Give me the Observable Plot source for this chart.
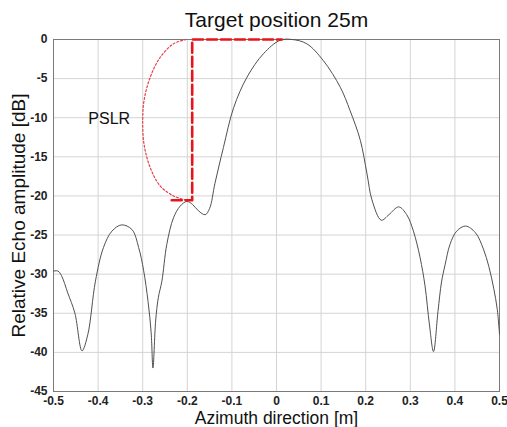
<!DOCTYPE html>
<html>
<head>
<meta charset="utf-8">
<script src="https://cdn.jsdelivr.net/npm/d3@7"></script>
<script src="https://cdn.jsdelivr.net/npm/@observablehq/plot@0.6"></script>
<style>
  html, body { margin: 0; padding: 0; background: #fff; }
  #chart svg { display: block; }
</style>
</head>
<body>
<div id="chart"></div>
<script>
const titleText = "Target position 25m";
const xLabel = "Azimuth direction [m]";
const yLabel = "Relative Echo amplitude [dB]";
const annotationText = "PSLR";

const xTicks = [-0.5, -0.4, -0.3, -0.2, -0.1, 0, 0.1, 0.2, 0.3, 0.4, 0.5];
const yTicks = [0, -5, -10, -15, -20, -25, -30, -35, -40, -45];

const azimuth = [-0.5, -0.49, -0.482, -0.468, -0.452, -0.436, -0.423, -0.406, -0.388, -0.369, -0.347, -0.324, -0.309, -0.298, -0.288, -0.281, -0.277, -0.271, -0.265, -0.257, -0.246, -0.231, -0.216, -0.201, -0.188, -0.175, -0.16, -0.15, -0.138, -0.119, -0.096, -0.066, -0.029, 0.008, 0.035, 0.068, 0.105, 0.143, 0.165, 0.188, 0.203, 0.214, 0.235, 0.252, 0.274, 0.292, 0.307, 0.322, 0.333, 0.343, 0.352, 0.362, 0.37, 0.378, 0.389, 0.404, 0.424, 0.446, 0.464, 0.476, 0.487, 0.495, 0.5];
const echoDb = [-29.6, -29.6, -30.2, -32.4, -35.0, -39.8, -37.7, -30.9, -26.6, -24.5, -23.7, -24.3, -26.6, -29.5, -33.5, -37.5, -42.0, -36.0, -33.0, -30.9, -26.2, -22.8, -21.3, -20.7, -21.1, -21.9, -22.4, -21.6, -18.4, -13.8, -8.7, -4.8, -1.8, -0.1, 0, -0.55, -2.7, -6.1, -9.1, -12.9, -17.2, -20.5, -23.1, -22.4, -21.4, -22.4, -24.5, -27.9, -31.5, -36.5, -39.9, -34.8, -31.0, -28.8, -26.2, -24.5, -23.85, -24.7, -26.8, -29.0, -31.8, -34.5, -37.7];

const pslrArcX = [-0.202, -0.231, -0.261, -0.283, -0.297, -0.300, -0.297, -0.283, -0.261, -0.231, -0.202];
const pslrArcY = [0, -0.55, -2.3, -4.8, -7.8, -10.4, -13.4, -16.4, -18.7, -20.0, -20.55];

const pslrMarkX = [-0.235, -0.189, -0.189, 0.012];
const pslrMarkY = [-20.55, -20.55, 0, 0];

const curve = azimuth.map((x, i) => ({x, y: echoDb[i]}));
const arc = pslrArcX.map((x, i) => ({x, y: pslrArcY[i]}));
const mark = pslrMarkX.map((x, i) => ({x, y: pslrMarkY[i]}));

const fmt = d => (d === 0 ? "0" : (d < 0 ? "-" : "") + (Math.abs(d) % 1 === 0 ? String(Math.abs(d)) : Math.abs(d).toFixed(1)));

const chart = Plot.plot({
  width: 507,
  height: 427,
  marginLeft: 53,
  marginRight: 8,
  marginTop: 39,
  marginBottom: 36,
  style: {fontFamily: "'Liberation Sans', Arial, sans-serif", background: "#fff", color: "#222"},
  x: {domain: [-0.5, 0.5]},
  y: {domain: [-45, 0]},
  marks: [
    Plot.gridX(xTicks, {stroke: "#d4d4d4", strokeOpacity: 1}),
    Plot.gridY(yTicks, {stroke: "#d4d4d4", strokeOpacity: 1}),
    Plot.frame({stroke: "#7a7a7a", strokeWidth: 1}),
    Plot.axisX(xTicks, {tickSize: 0, tickPadding: 5, tickFormat: fmt, fontSize: 12, fontWeight: "bold", label: null}),
    Plot.axisY(yTicks, {tickSize: 0, tickPadding: 6, tickFormat: fmt, fontSize: 12, fontWeight: "bold", label: null}),
    Plot.line(curve, {x: "x", y: "y", curve: "catmull-rom", stroke: "#505050", strokeWidth: 1}),
    Plot.line(arc, {x: "x", y: "y", curve: "catmull-rom", stroke: "#e5404a", strokeWidth: 1.2, strokeDasharray: "2,2"}),
    Plot.line(mark, {x: "x", y: "y", stroke: "#e8141c", strokeWidth: 2.6, strokeDasharray: "10,4"}),
    Plot.text([annotationText], {x: [-0.375], y: [-10.2], fontSize: 16, fill: "#111"}),
    Plot.text([titleText], {frameAnchor: "top", dy: -19, lineAnchor: "middle", fontSize: 21, fill: "#111"}),
    Plot.text([xLabel], {frameAnchor: "bottom", dy: 27, lineAnchor: "middle", fontSize: 17.5, fill: "#111"}),
    Plot.text([yLabel], {frameAnchor: "left", dx: -35, textAnchor: "middle", lineAnchor: "middle", rotate: -90, fontSize: 19, fill: "#111"})
  ]
});
document.getElementById("chart").appendChild(chart);
</script>
</body>
</html>
